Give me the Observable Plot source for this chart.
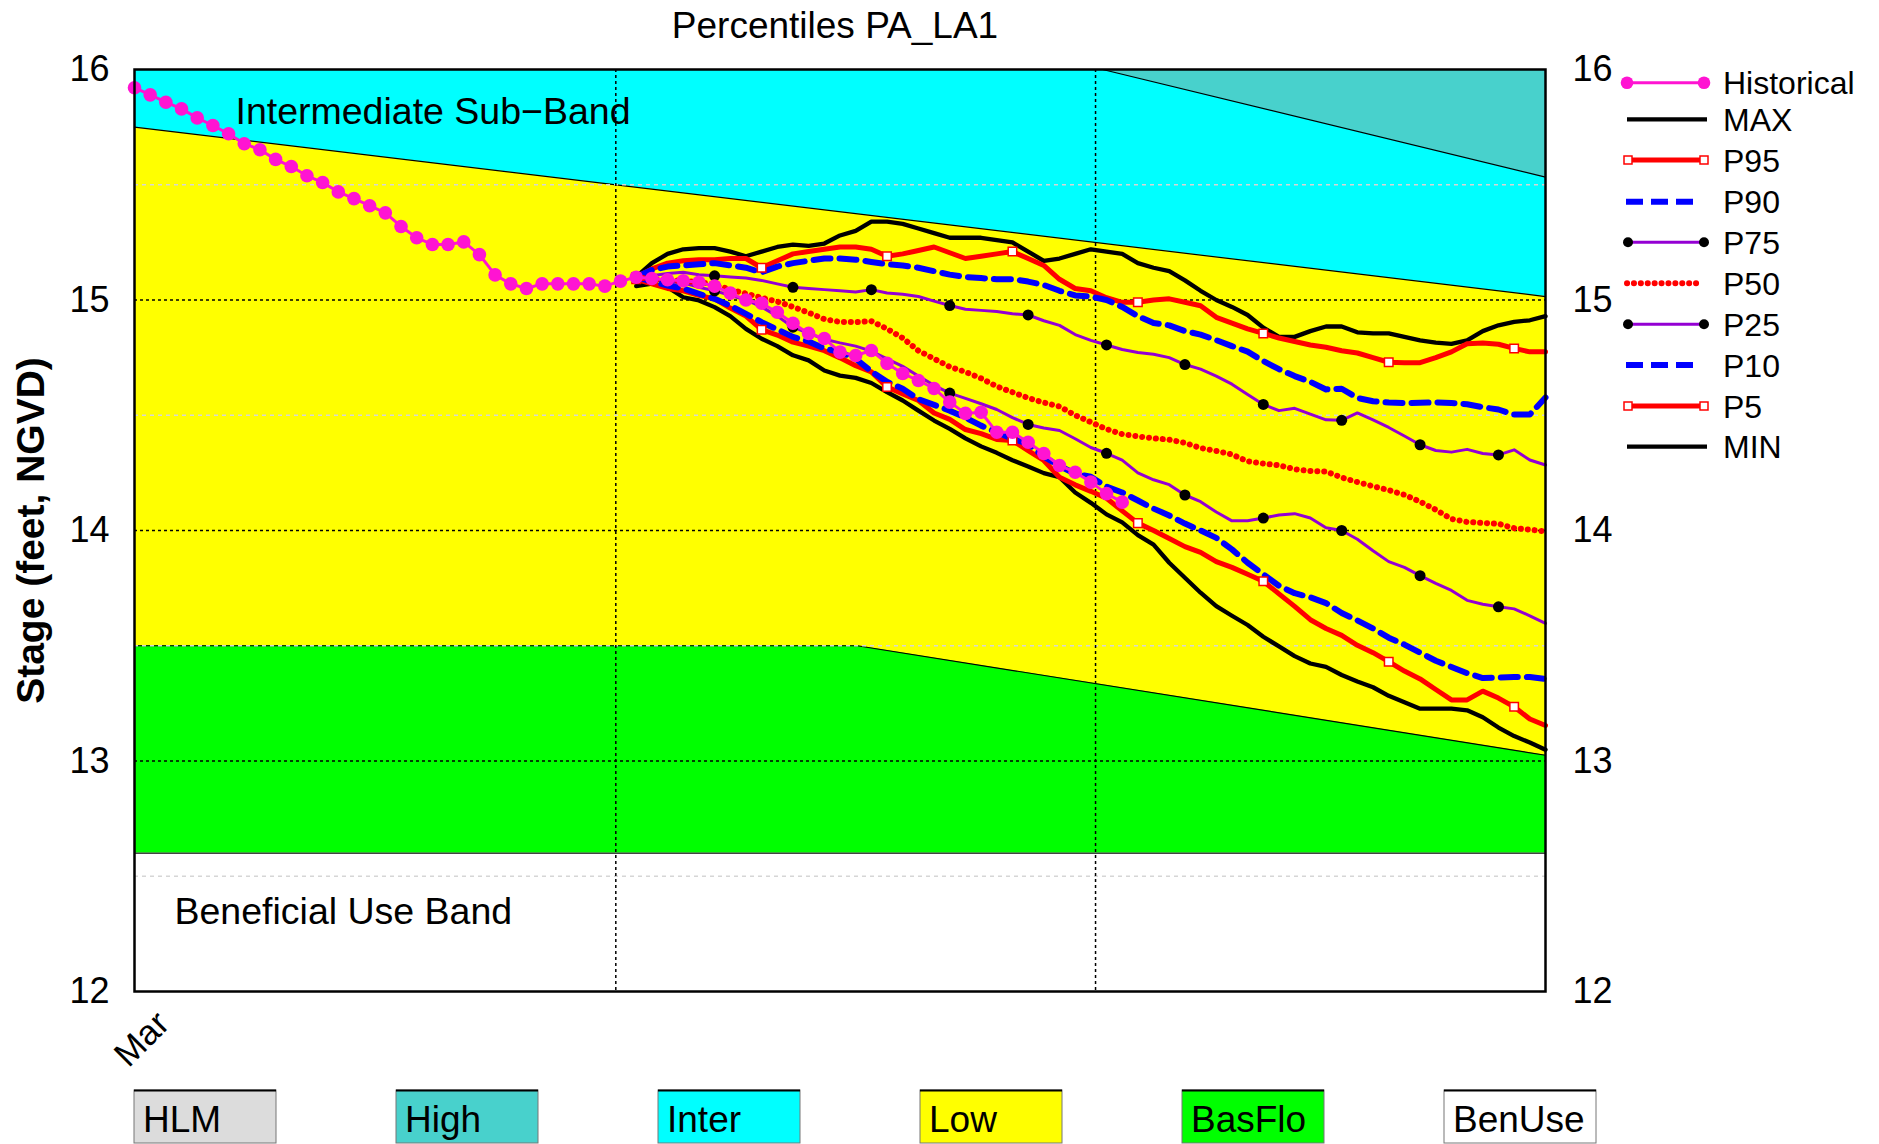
<!DOCTYPE html>
<html><head><meta charset="utf-8">
<script src="https://cdn.jsdelivr.net/npm/d3@7"></script>
<script src="https://cdn.jsdelivr.net/npm/@observablehq/plot@0.6"></script>
<style>
html,body{margin:0;padding:0;background:#fff;}
#chart{width:1879px;height:1144px;position:relative;overflow:hidden;}
</style></head><body><div id="chart"></div>
<script>
// ---------------- data ----------------
const histDays = d3.range(0, 64);            // days since Mar 1
const histValues = [15.921,15.890,15.858,15.829,15.790,15.757,15.721,15.678,15.652,15.610,
  15.579,15.539,15.510,15.469,15.440,15.409,15.378,15.319,15.270,15.241,
  15.241,15.252,15.197,15.109,15.070,15.050,15.070,15.070,15.070,15.070,
  15.060,15.082,15.099,15.093,15.088,15.083,15.077,15.060,15.030,15.000,
  14.986,14.947,14.899,14.855,14.833,14.774,14.759,14.781,14.725,14.681,
  14.651,14.616,14.557,14.508,14.513,14.426,14.426,14.383,14.334,14.282,
  14.253,14.210,14.160,14.123];

const fcDays = d3.range(32, 91);
const fcMax = [15.10,15.16,15.20,15.22,15.225,15.225,15.21,15.19,15.21,15.23,15.24,15.235,15.245,15.28,15.30,15.34,15.34,15.33,15.31,15.29,15.27,15.27,15.27,15.26,15.25,15.21,15.17,15.18,15.20,15.22,15.21,15.20,15.16,15.14,15.125,15.085,15.04,15.00,14.97,14.935,14.88,14.84,14.84,14.865,14.885,14.885,14.86,14.855,14.855,14.84,14.825,14.815,14.81,14.825,14.865,14.89,14.905,14.912,14.93];
const fcP95 = [15.10,15.135,15.16,15.17,15.175,15.175,15.18,15.18,15.14,15.17,15.20,15.21,15.22,15.23,15.23,15.22,15.19,15.20,15.215,15.23,15.205,15.18,15.19,15.20,15.21,15.18,15.15,15.09,15.05,15.04,15.01,14.99,14.99,15.00,15.005,14.99,14.975,14.925,14.90,14.875,14.855,14.835,14.82,14.805,14.795,14.78,14.77,14.75,14.73,14.728,14.728,14.75,14.775,14.81,14.813,14.808,14.79,14.775,14.775];
const fcP90 = [15.10,15.13,15.145,15.15,15.155,15.16,15.15,15.14,15.12,15.145,15.16,15.17,15.18,15.18,15.175,15.165,15.155,15.15,15.14,15.125,15.11,15.10,15.095,15.09,15.09,15.08,15.065,15.04,15.02,15.015,15.0,14.97,14.93,14.90,14.89,14.865,14.85,14.826,14.80,14.776,14.735,14.70,14.67,14.645,14.612,14.615,14.575,14.561,14.555,14.553,14.554,14.556,14.553,14.548,14.535,14.525,14.503,14.503,14.577];
const fcP75 = [15.10,15.105,15.115,15.12,15.11,15.105,15.10,15.095,15.085,15.07,15.055,15.05,15.045,15.04,15.035,15.045,15.03,15.025,15.015,14.995,14.976,14.96,14.955,14.95,14.94,14.935,14.91,14.89,14.85,14.825,14.805,14.785,14.772,14.765,14.75,14.72,14.70,14.67,14.635,14.59,14.547,14.52,14.53,14.505,14.48,14.478,14.51,14.48,14.447,14.41,14.372,14.347,14.34,14.352,14.334,14.328,14.35,14.306,14.284];
const fcP50 = [15.10,15.09,15.088,15.083,15.078,15.067,15.045,15.028,15.01,14.993,14.97,14.945,14.917,14.905,14.904,14.908,14.875,14.835,14.78,14.745,14.71,14.688,14.66,14.625,14.60,14.575,14.555,14.538,14.50,14.47,14.44,14.418,14.408,14.40,14.394,14.38,14.358,14.345,14.33,14.30,14.29,14.283,14.266,14.258,14.256,14.23,14.21,14.192,14.175,14.155,14.125,14.09,14.05,14.037,14.033,14.029,14.01,14.004,13.996];
const fcP25 = [15.10,15.09,15.078,15.075,15.055,15.04,15.02,15.00,14.97,14.93,14.882,14.855,14.83,14.814,14.80,14.778,14.745,14.712,14.67,14.63,14.596,14.573,14.55,14.525,14.49,14.46,14.445,14.434,14.398,14.36,14.335,14.305,14.25,14.22,14.199,14.154,14.125,14.08,14.042,14.042,14.054,14.067,14.073,14.054,14.012,14.0,13.962,13.912,13.865,13.84,13.804,13.771,13.74,13.697,13.68,13.669,13.66,13.63,13.597];
const fcP10 = [15.10,15.08,15.063,15.05,15.027,15.005,14.975,14.94,14.904,14.872,14.84,14.82,14.79,14.774,14.745,14.69,14.645,14.615,14.57,14.545,14.52,14.49,14.455,14.426,14.398,14.376,14.32,14.28,14.246,14.233,14.19,14.165,14.13,14.095,14.065,14.03,14.0,13.968,13.918,13.86,13.81,13.76,13.728,13.71,13.685,13.642,13.61,13.575,13.535,13.505,13.47,13.435,13.408,13.381,13.36,13.362,13.364,13.364,13.356];
const fcP5 = [15.09,15.07,15.05,15.04,15.02,15.005,14.965,14.93,14.871,14.848,14.817,14.80,14.78,14.749,14.715,14.688,14.623,14.592,14.564,14.51,14.482,14.438,14.42,14.395,14.39,14.347,14.304,14.231,14.198,14.17,14.14,14.085,14.032,14.00,13.965,13.93,13.905,13.865,13.84,13.81,13.78,13.725,13.671,13.613,13.575,13.545,13.502,13.47,13.431,13.39,13.356,13.31,13.265,13.265,13.303,13.273,13.235,13.182,13.154];
const fcMin = [15.06,15.071,15.056,15.012,14.998,14.969,14.93,14.875,14.832,14.80,14.76,14.738,14.694,14.672,14.662,14.64,14.60,14.564,14.52,14.477,14.441,14.40,14.365,14.337,14.305,14.278,14.249,14.231,14.165,14.12,14.07,14.035,13.98,13.939,13.86,13.795,13.73,13.672,13.63,13.59,13.539,13.497,13.455,13.423,13.408,13.373,13.345,13.32,13.283,13.255,13.227,13.227,13.227,13.22,13.19,13.145,13.108,13.08,13.049];

const squareDays = [32,40,48,56,64,72,80,88];       // P95 / P5 markers
const dotDays = [37,42,47,52,57,62,67,72,77,82,87];  // P75 / P25 markers

// operating bands
const highDays = [61.75, 90], highValues = [16.0, 15.533];
const lowDays = [0, 90], lowValues = [15.75, 15.015];
const basDays = [0, 46.1, 90], basValues = [13.5, 13.5, 13.025];
const benUseTop = 12.6;

const yTicks = [12, 13, 14, 15, 16];
const minorGrid = [12.5, 13.5, 14.5, 15.5];
const majorGrid = [13, 14, 15];
const vGrid = [30.7, 61.3];
const xLabels = [{day: 0, value: 12, label: "Mar"}];

const legendNames = ["Historical","MAX","P95","P90","P75","P50","P25","P10","P5","MIN"];
const bandNames = ["HLM","High","Inter","Low","BasFlo","BenUse"];
const bandColors = ["#DCDCDC","#48D1CC","#00FFFF","#FFFF00","#00FF00","#FFFFFF"];

// ---------------- build ----------------
const rows = (days, vals) => vals.map((v, i) => ({day: days[i], value: v}));
const hist = rows(histDays, histValues);
const S = {
  max: rows(fcDays, fcMax), p95: rows(fcDays, fcP95), p90: rows(fcDays, fcP90),
  p75: rows(fcDays, fcP75), p50: rows(fcDays, fcP50), p25: rows(fcDays, fcP25),
  p10: rows(fcDays, fcP10), p5: rows(fcDays, fcP5), min: rows(fcDays, fcMin)
};
const highRows = rows(highDays, highValues);
const lowRows = rows(lowDays, lowValues);
const basRows = rows(basDays, basValues);

const FONT = '"Liberation Sans", Arial, Helvetica, sans-serif';
const W = 1879, H = 1144;
const MAG = "#FF14D2", PUR = "#9400D3";
const xy = {x: "day", y: "value"};
const sq = d => squareDays.includes(d.day);
const dt = d => dotDays.includes(d.day);
const intFmt = d3.format("d");

const plot = Plot.plot({
  width: W, height: H,
  marginLeft: 134, marginRight: W - 1545, marginTop: 69, marginBottom: H - 991,
  style: {fontFamily: FONT, fontSize: "36px", background: "white", color: "black", overflow: "visible"},
  x: {domain: [0, 90], axis: null},
  y: {domain: [12, 16], axis: null},
  marks: [
    Plot.frame({fill: "#00FFFF", stroke: null}),
    Plot.areaY(highRows, {...xy, y1: "value", y2: 16, fill: "#48D1CC"}),
    Plot.areaY(lowRows, {...xy, y1: 12, y2: "value", fill: "#FFFF00"}),
    Plot.areaY(basRows, {...xy, y1: 12, y2: "value", fill: "#00FF00"}),
    Plot.areaY(basRows, {...xy, y1: 12, y2: benUseTop, fill: "white"}),
    Plot.lineY(highRows, {...xy, stroke: "black", strokeWidth: 1.2}),
    Plot.lineY(lowRows, {...xy, stroke: "black", strokeWidth: 1.2}),
    Plot.lineY(basRows, {...xy, stroke: "black", strokeWidth: 1.2}),
    Plot.ruleY([benUseTop], {stroke: "#444", strokeWidth: 1.6}),
    Plot.ruleY(minorGrid, {stroke: "#d6d6d6", strokeWidth: 1.5, strokeDasharray: "4,4"}),
    Plot.ruleY(majorGrid, {stroke: "black", strokeWidth: 1.5, strokeDasharray: "3,3"}),
    Plot.ruleX(vGrid, {stroke: "black", strokeWidth: 1.5, strokeDasharray: "3,3"}),
    // forecast percentiles
    Plot.line(S.max, {...xy, stroke: "black", strokeWidth: 4.3, strokeLinejoin: "round"}),
    Plot.line(S.min, {...xy, stroke: "black", strokeWidth: 4.3, strokeLinejoin: "round"}),
    Plot.line(S.p95, {...xy, stroke: "red", strokeWidth: 5, strokeLinejoin: "round"}),
    Plot.line(S.p5, {...xy, stroke: "red", strokeWidth: 5, strokeLinejoin: "round"}),
    Plot.line(S.p75, {...xy, stroke: PUR, strokeWidth: 3, strokeLinejoin: "round"}),
    Plot.line(S.p25, {...xy, stroke: PUR, strokeWidth: 3, strokeLinejoin: "round"}),
    Plot.line(S.p90, {...xy, stroke: "blue", strokeWidth: 6, strokeDasharray: "17,9"}),
    Plot.line(S.p10, {...xy, stroke: "blue", strokeWidth: 6, strokeDasharray: "17,9"}),
    Plot.line(S.p50, {...xy, stroke: "red", strokeWidth: 6, strokeDasharray: "0.1,6.8", strokeLinecap: "round"}),
    Plot.dot(S.p95.filter(sq), {...xy, symbol: "square", r: 4.8, fill: "white", stroke: "red", strokeWidth: 1.5}),
    Plot.dot(S.p5.filter(sq), {...xy, symbol: "square", r: 4.8, fill: "white", stroke: "red", strokeWidth: 1.5}),
    Plot.dot(S.p75.filter(dt), {...xy, r: 5.5, fill: "black", stroke: null}),
    Plot.dot(S.p25.filter(dt), {...xy, r: 5.5, fill: "black", stroke: null}),
    // historical
    Plot.line(hist, {...xy, stroke: MAG, strokeWidth: 3}),
    Plot.dot(hist, {...xy, r: 6.8, fill: MAG, stroke: null}),
    Plot.frame({stroke: "black", strokeWidth: 2.5}),
    // axes
    Plot.axisY({anchor: "left", ticks: yTicks, tickFormat: intFmt, tickSize: 0, tickPadding: 25, label: null, fontSize: 36}),
    Plot.axisY({anchor: "right", ticks: yTicks, tickFormat: intFmt, tickSize: 0, tickPadding: 27, label: null, fontSize: 36}),
    Plot.text(xLabels, {x: "day", y: "value", text: "label", rotate: -45, textAnchor: "start", lineAnchor: "bottom", dx: -6, dy: 77, fontSize: 35}),
    // texts
    Plot.text(["Percentiles PA_LA1"], {text: d => d, frameAnchor: "top", textAnchor: "middle", lineAnchor: "bottom", dy: -32, dx: -5, fontSize: 37}),
    Plot.text(["Stage (feet, NGVD)"], {text: d => d, frameAnchor: "left", textAnchor: "middle", lineAnchor: "middle", rotate: -90, dx: -103, fontWeight: "bold", fontSize: 39}),
    Plot.text([{day: 6.44, value: 15.764, label: "Intermediate Sub\u2212Band"}], {...xy, text: "label", textAnchor: "start", lineAnchor: "bottom", fontSize: 37.5}),
    Plot.text([{day: 2.55, value: 12.294, label: "Beneficial Use Band"}], {...xy, text: "label", textAnchor: "start", lineAnchor: "bottom", fontSize: 37.5})
  ]
});
document.getElementById("chart").appendChild(plot);

// ---------------- legends ----------------
const svg = d3.select(plot);
const lg = svg.append("g").attr("font-family", FONT).attr("font-size", 32).attr("fill", "black").attr("text-anchor", "start");
const legendY = [82.7,119.3,160,201.7,242.3,283.3,324.3,365,406,446.7];
const x0 = 1627, x1 = 1704;
legendNames.forEach((name, i) => {
  const y = legendY[i];
  const g = lg.append("g");
  const line = (a, b) => g.append("line").attr("x1", a).attr("x2", b).attr("y1", y).attr("y2", y);
  if (name === "Historical") {
    line(x0, x1).attr("stroke", MAG).attr("stroke-width", 3);
    [x0, x1].forEach(cx => g.append("circle").attr("cx", cx).attr("cy", y).attr("r", 6.3).attr("fill", MAG));
  } else if (name === "MAX" || name === "MIN") {
    line(x0, x1 + 3).attr("stroke", "black").attr("stroke-width", 4.3);
  } else if (name === "P95" || name === "P5") {
    line(x0 + 1, x1).attr("stroke", "red").attr("stroke-width", 5);
    [x0 + 1, x1].forEach(cx => g.append("rect").attr("x", cx - 4).attr("y", y - 4).attr("width", 8).attr("height", 8)
      .attr("fill", "white").attr("stroke", "red").attr("stroke-width", 1.5));
  } else if (name === "P90" || name === "P10") {
    line(x0 - 1, x0 + 68).attr("stroke", "blue").attr("stroke-width", 6).attr("stroke-dasharray", "17,8");
  } else if (name === "P75" || name === "P25") {
    line(x0 + 1, x1).attr("stroke", PUR).attr("stroke-width", 3);
    [x0 + 1, x1].forEach(cx => g.append("circle").attr("cx", cx).attr("cy", y).attr("r", 5).attr("fill", "black"));
  } else if (name === "P50") {
    line(x0, x1 - 2).attr("stroke", "red").attr("stroke-width", 6).attr("stroke-dasharray", "0.1,6.8").attr("stroke-linecap", "round");
  }
  g.append("text").attr("x", 1723).attr("y", y + 11.5).attr("text-anchor", "start").text(name);
});

const bl = svg.append("g").attr("font-family", FONT).attr("font-size", 37).attr("text-anchor", "start");
bandNames.forEach((name, i) => {
  const bx = 134 + i * 262, bw = name === "BenUse" ? 152 : 142;
  bl.append("rect").attr("x", bx).attr("y", 1090).attr("width", bw).attr("height", 53)
    .attr("fill", bandColors[i]).attr("stroke", "#777").attr("stroke-width", 1);
  bl.append("line").attr("x1", bx).attr("x2", bx + bw).attr("y1", 1090.5).attr("y2", 1090.5)
    .attr("stroke", "black").attr("stroke-width", 2);
  bl.append("text").attr("x", bx + 9).attr("y", 1131.7).attr("fill", "black").attr("text-anchor", "start").text(name);
});
</script></body></html>
